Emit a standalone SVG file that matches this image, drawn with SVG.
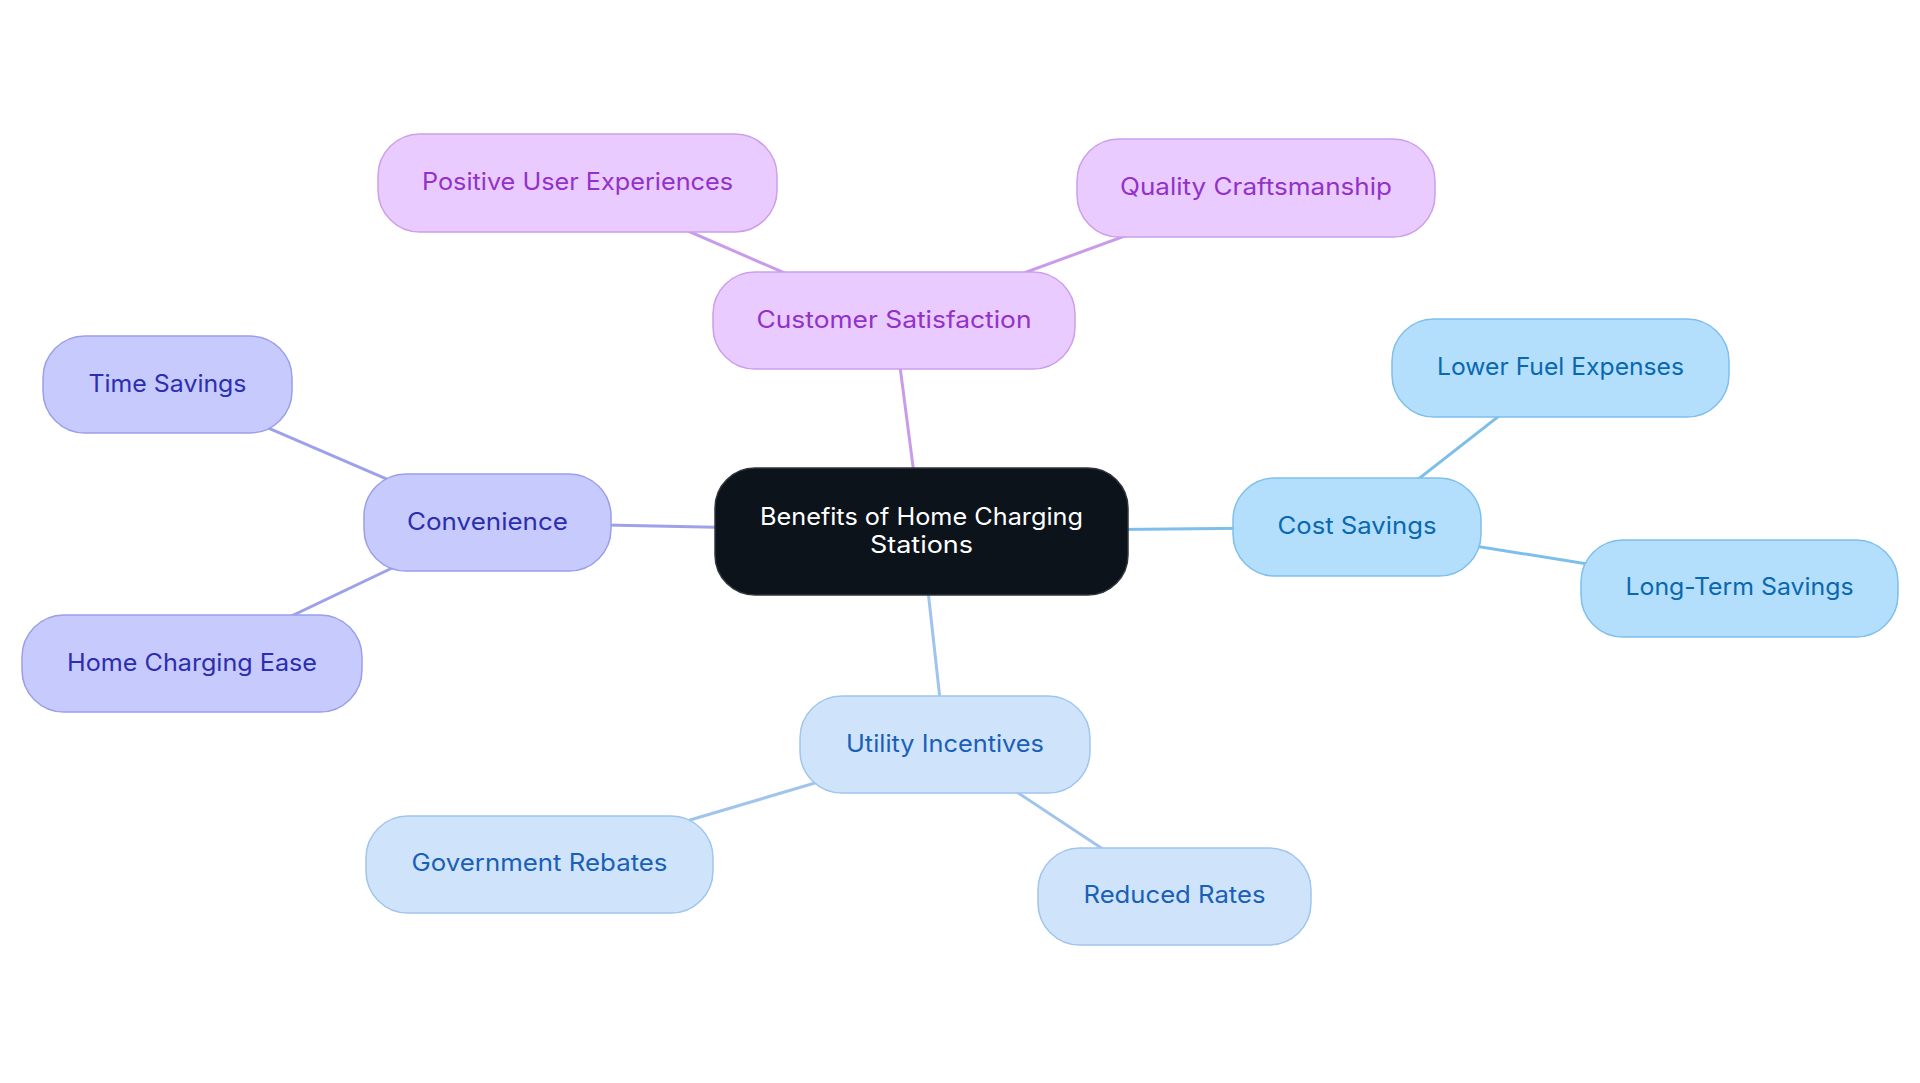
<svg xmlns="http://www.w3.org/2000/svg" width="1920" height="1083" viewBox="0 0 1920 1083">
<style>
text{font-family:Inter,"Liberation Sans",sans-serif;font-size:24px;text-anchor:middle}
.e{stroke-width:3;fill:none;stroke-linecap:round}
.ep{stroke:#C99BE9}.es{stroke:#7EBEEA}.eu{stroke:#A0C4EC}.ec{stroke:#9EA1EA}
.np rect{fill:#EACBFF;stroke:#CC9EEC;stroke-width:1.5}.np text{fill:#9232C8}
.ns rect{fill:#B3DFFD;stroke:#7FBFEC;stroke-width:1.5}.ns text{fill:#0A68AE}
.nu rect{fill:#CFE4FB;stroke:#A0C5EE;stroke-width:1.5}.nu text{fill:#1A60B6}
.nc rect{fill:#C7CAFD;stroke:#9B9FE9;stroke-width:1.5}.nc text{fill:#2D2EAE}
.root rect{fill:#0C131A;stroke:#30353b;stroke-width:1.5}.root text{fill:#FFFFFF}
</style>
<rect width="1920" height="1083" fill="#FFFFFF"/>
<g id="connectors">
<line class="e ep" x1="921.5" y1="531.5" x2="894" y2="320.5"/>
<line class="e ep" x1="894" y1="320.5" x2="577.5" y2="183"/>
<line class="e ep" x1="894" y1="320.5" x2="1256" y2="188"/>
<line class="e es" x1="921.5" y1="531.5" x2="1357" y2="527"/>
<line class="e es" x1="1357" y1="527" x2="1560.5" y2="368"/>
<line class="e es" x1="1357" y1="527" x2="1739.5" y2="588.5"/>
<line class="e ec" x1="921.5" y1="531.5" x2="487.5" y2="522.5"/>
<line class="e ec" x1="487.5" y1="522.5" x2="167.5" y2="384.5"/>
<line class="e ec" x1="487.5" y1="522.5" x2="192" y2="663.5"/>
<line class="e eu" x1="921.5" y1="531.5" x2="945" y2="744.5"/>
<line class="e eu" x1="945" y1="744.5" x2="539.5" y2="864.5"/>
<line class="e eu" x1="945" y1="744.5" x2="1174.5" y2="896.5"/>
</g>
<g id="node-root" class="root">
<rect x="715" y="468" width="413" height="127" rx="40"/>
<text x="921.5" y="525" textLength="323" lengthAdjust="spacingAndGlyphs">Benefits of Home Charging</text>
<text x="921.5" y="553" textLength="103" lengthAdjust="spacingAndGlyphs">Stations</text>
</g>
<g id="node-customer-satisfaction" class="np">
<rect x="713" y="272" width="362" height="97" rx="42"/>
<text x="894" y="328" textLength="275" lengthAdjust="spacingAndGlyphs">Customer Satisfaction</text>
</g>
<g id="node-positive-user-experiences" class="np">
<rect x="378" y="134" width="399" height="98" rx="42"/>
<text x="577.5" y="190" textLength="311" lengthAdjust="spacingAndGlyphs">Positive User Experiences</text>
</g>
<g id="node-quality-craftsmanship" class="np">
<rect x="1077" y="139" width="358" height="98" rx="42"/>
<text x="1256" y="195" textLength="272" lengthAdjust="spacingAndGlyphs">Quality Craftsmanship</text>
</g>
<g id="node-cost-savings" class="ns">
<rect x="1233" y="478" width="248" height="98" rx="42"/>
<text x="1357" y="534" textLength="159" lengthAdjust="spacingAndGlyphs">Cost Savings</text>
</g>
<g id="node-lower-fuel-expenses" class="ns">
<rect x="1392" y="319" width="337" height="98" rx="42"/>
<text x="1560.5" y="375" textLength="247" lengthAdjust="spacingAndGlyphs">Lower Fuel Expenses</text>
</g>
<g id="node-long-term-savings" class="ns">
<rect x="1581" y="540" width="317" height="97" rx="42"/>
<text x="1739.5" y="595" textLength="228" lengthAdjust="spacingAndGlyphs">Long-Term Savings</text>
</g>
<g id="node-convenience" class="nc">
<rect x="364" y="474" width="247" height="97" rx="42"/>
<text x="487.5" y="530" textLength="161" lengthAdjust="spacingAndGlyphs">Convenience</text>
</g>
<g id="node-time-savings" class="nc">
<rect x="43" y="336" width="249" height="97" rx="42"/>
<text x="167.5" y="392" textLength="158" lengthAdjust="spacingAndGlyphs">Time Savings</text>
</g>
<g id="node-home-charging-ease" class="nc">
<rect x="22" y="615" width="340" height="97" rx="42"/>
<text x="192" y="671" textLength="250" lengthAdjust="spacingAndGlyphs">Home Charging Ease</text>
</g>
<g id="node-utility-incentives" class="nu">
<rect x="800" y="696" width="290" height="97" rx="42"/>
<text x="945" y="752" textLength="198" lengthAdjust="spacingAndGlyphs">Utility Incentives</text>
</g>
<g id="node-government-rebates" class="nu">
<rect x="366" y="816" width="347" height="97" rx="42"/>
<text x="539.5" y="871" textLength="256" lengthAdjust="spacingAndGlyphs">Government Rebates</text>
</g>
<g id="node-reduced-rates" class="nu">
<rect x="1038" y="848" width="273" height="97" rx="42"/>
<text x="1174.5" y="903" textLength="182" lengthAdjust="spacingAndGlyphs">Reduced Rates</text>
</g>
</svg>
